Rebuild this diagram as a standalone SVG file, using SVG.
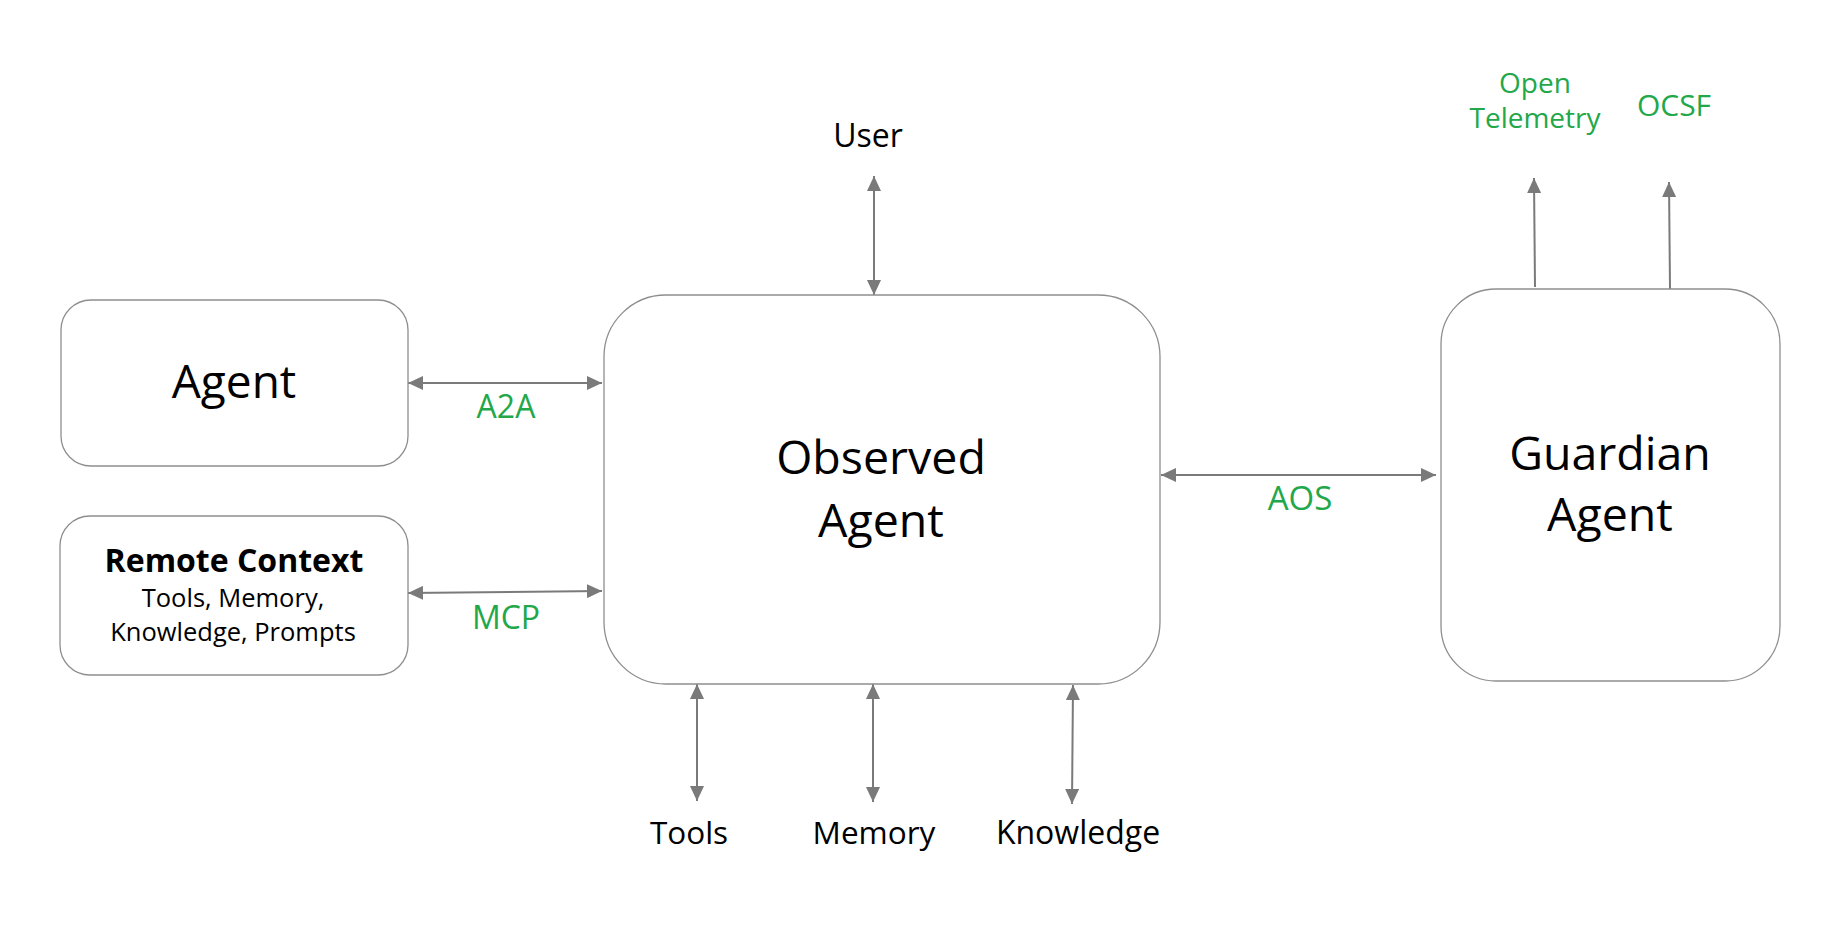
<svg xmlns="http://www.w3.org/2000/svg" width="1834" height="934" viewBox="0 0 1834 934">
<style>
.box{fill:#ffffff;stroke:#8e8e8e;stroke-width:1.3}
.conn{stroke:#7a7a7a;stroke-width:2;fill:none}
.t{font-family:"Open Sans","Noto Sans","Liberation Sans",sans-serif;fill:#000;text-anchor:middle}
.g{font-family:"Open Sans","Noto Sans","Liberation Sans",sans-serif;fill:#22a84a;text-anchor:middle}
</style>
<defs>
<marker id="ah" markerUnits="userSpaceOnUse" markerWidth="15" markerHeight="14" refX="15" refY="7" orient="auto-start-reverse">
<path d="M0,0 L15,7 L0,14 z" fill="#7a7a7a"/>
</marker>
</defs>
<rect width="1834" height="934" fill="#ffffff"/>
<g id="connectors">
<line class="conn" x1="874" y1="176" x2="874" y2="295" marker-start="url(#ah)" marker-end="url(#ah)"/>
<line class="conn" x1="408" y1="383" x2="602" y2="383" marker-start="url(#ah)" marker-end="url(#ah)"/>
<line class="conn" x1="408" y1="593" x2="602" y2="591" marker-start="url(#ah)" marker-end="url(#ah)"/>
<line class="conn" x1="1161" y1="475" x2="1436" y2="475" marker-start="url(#ah)" marker-end="url(#ah)"/>
<line class="conn" x1="697" y1="684" x2="697" y2="801" marker-start="url(#ah)" marker-end="url(#ah)"/>
<line class="conn" x1="873" y1="684" x2="873" y2="802" marker-start="url(#ah)" marker-end="url(#ah)"/>
<line class="conn" x1="1073" y1="685" x2="1072" y2="804" marker-start="url(#ah)" marker-end="url(#ah)"/>
<line class="conn" x1="1535" y1="287" x2="1534" y2="178" marker-end="url(#ah)"/>
<line class="conn" x1="1670" y1="289" x2="1669" y2="182" marker-end="url(#ah)"/>
<text class="g" x="506" y="418" font-size="32">A2A</text>
<text class="g" x="506" y="629" font-size="32">MCP</text>
<text class="g" x="1300" y="510" font-size="33">AOS</text>
</g>
<g id="agent">
<rect class="box" x="61" y="300" width="347" height="166" rx="30"/>
<text class="t" x="234" y="398" font-size="46">Agent</text>
</g>
<g id="remote-context">
<rect class="box" x="60" y="516" width="348" height="159" rx="30"/>
<text class="t" x="234" y="572" font-size="32" font-weight="bold">Remote Context</text>
<text class="t" x="233" y="607" font-size="25.5">Tools, Memory,</text>
<text class="t" x="233" y="641" font-size="25.5">Knowledge, Prompts</text>
</g>
<g id="observed-agent">
<rect class="box" x="604" y="295" width="556" height="389" rx="62"/>
<text class="t" x="881" y="474" font-size="46.5">Observed</text>
<text class="t" x="881" y="537" font-size="46.5">Agent</text>
</g>
<g id="guardian-agent">
<rect class="box" x="1441" y="289" width="339" height="392" rx="55"/>
<text class="t" x="1610" y="470" font-size="46.5">Guardian</text>
<text class="t" x="1610" y="531" font-size="46.5">Agent</text>
</g>
<g id="user"><text class="t" x="868" y="147" font-size="32">User</text></g>
<g id="tools"><text class="t" x="689" y="844" font-size="31.5">Tools</text></g>
<g id="memory"><text class="t" x="874" y="844" font-size="31.5">Memory</text></g>
<g id="knowledge"><text class="t" x="1078" y="844" font-size="32">Knowledge</text></g>
<g id="open-telemetry">
<text class="g" x="1535" y="93" font-size="28">Open</text>
<text class="g" x="1535" y="128" font-size="28">Telemetry</text>
</g>
<g id="ocsf"><text class="g" x="1674" y="116" font-size="30">OCSF</text></g>
</svg>
